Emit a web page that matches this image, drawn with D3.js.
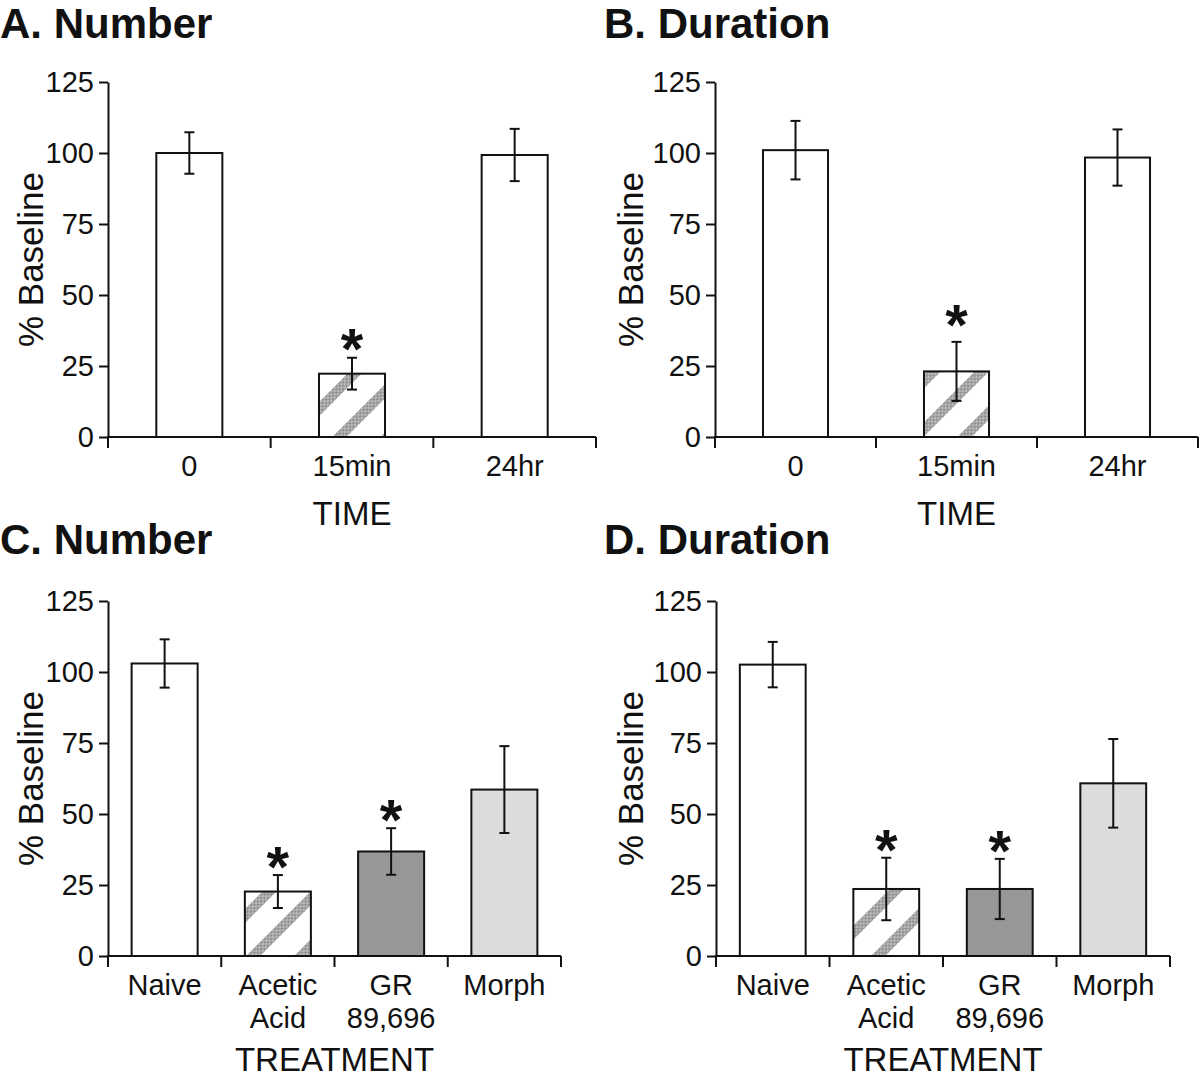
<!DOCTYPE html>
<html>
<head>
<meta charset="utf-8">
<script src="https://cdn.jsdelivr.net/npm/d3@7"></script>
<style>
  html, body { margin: 0; padding: 0; background: #fff; }
  svg { display: block; font-family: "Liberation Sans", Arial, sans-serif; }
</style>
</head>
<body>
<svg id="chart" width="1200" height="1079"></svg>
<script>
// ---------- data ----------
const timeCategories = ["0", "15min", "24hr"];
const treatmentCategories = ["Naive", "Acetic|Acid", "GR|89,696", "Morph"];
const yTickValues = [0, 25, 50, 75, 100, 125];

const numberTimeMeans = [100, 22.3, 99.3];
const numberTimeErrors = [7.3, 5.6, 9.2];
const durationTimeMeans = [101, 23.1, 98.4];
const durationTimeErrors = [10.3, 10.4, 9.9];

const numberTreatMeans = [103, 22.7, 36.8, 58.6];
const numberTreatErrors = [8.5, 5.8, 8.2, 15.3];
const durationTreatMeans = [102.6, 23.6, 23.6, 60.8];
const durationTreatErrors = [8.0, 11.0, 10.6, 15.6];

const timeSignificant = [false, true, false];
const treatSignificant = [false, true, true, false];

const timeFills = ["white", "hatch", "white"];
const treatFills = ["white", "hatch", "#979797", "#dcdcdc"];

const panelTitles = ["A. Number", "B. Duration", "C. Number", "D. Duration"];
const yAxisTitle = "% Baseline";
const xAxisTitles = ["TIME", "TIME", "TREATMENT", "TREATMENT"];

// ---------- layout ----------
const panels = [
  { title: panelTitles[0], cats: timeCategories, means: numberTimeMeans, errs: numberTimeErrors, sig: timeSignificant, fills: timeFills, xTitle: xAxisTitles[0],
    x0: 108, x1: 596, yTop: 82, yBot: 437, pad: 0.594, titleX: 0, titleY: 38, ylabX: 43, starGap: 22 },
  { title: panelTitles[1], cats: timeCategories, means: durationTimeMeans, errs: durationTimeErrors, sig: timeSignificant, fills: timeFills, xTitle: xAxisTitles[1],
    x0: 715, x1: 1198, yTop: 82, yBot: 437, pad: 0.596, titleX: 604, titleY: 38, ylabX: 643, starGap: 30 },
  { title: panelTitles[2], cats: treatmentCategories, means: numberTreatMeans, errs: numberTreatErrors, sig: treatSignificant, fills: treatFills, xTitle: xAxisTitles[2],
    x0: 108, x1: 561, yTop: 601, yBot: 956, pad: 0.417, titleX: 0, titleY: 554, ylabX: 43, starGap: 21 },
  { title: panelTitles[3], cats: treatmentCategories, means: durationTreatMeans, errs: durationTreatErrors, sig: treatSignificant, fills: treatFills, xTitle: xAxisTitles[3],
    x0: 716, x1: 1170, yTop: 601, yBot: 956, pad: 0.42, titleX: 604, titleY: 554, ylabX: 643, starGap: 21 }
];

const svg = d3.select("#chart");
const defs = svg.append("defs");

// stipple texture
const stip = defs.append("pattern").attr("id", "stipple")
  .attr("patternUnits", "userSpaceOnUse").attr("width", 2).attr("height", 2);
stip.append("rect").attr("width", 2).attr("height", 2).attr("fill", "#d0d0d0");
stip.append("rect").attr("width", 1).attr("height", 1).attr("fill", "#707070");
stip.append("rect").attr("x", 1).attr("y", 1).attr("width", 1).attr("height", 1).attr("fill", "#888888");

const hatch = defs.append("pattern").attr("id", "hatch")
  .attr("patternUnits", "userSpaceOnUse").attr("width", 34).attr("height", 34)
  .attr("patternTransform", "rotate(45)");
hatch.append("rect").attr("width", 34).attr("height", 34).attr("fill", "white");
hatch.append("rect").attr("x", 0).attr("width", 10).attr("height", 34).attr("fill", "url(#stipple)");

panels.forEach(p => {
  const g = svg.append("g");
  const x = d3.scaleBand().domain(p.cats).range([p.x0, p.x1])
    .paddingInner(p.pad).paddingOuter(p.pad / 2);
  const y = d3.scaleLinear().domain([0, 125]).range([p.yBot, p.yTop]);

  // title
  g.append("text").attr("x", p.titleX).attr("y", p.titleY)
    .attr("font-size", 42).attr("font-weight", "bold").attr("fill", "#111")
    .text(p.title);

  // bars
  const data = p.cats.map((c, i) => ({ c, m: p.means[i], e: p.errs[i], s: p.sig[i], f: p.fills[i] }));
  g.selectAll("rect.bar").data(data).enter().append("rect").attr("class", "bar")
    .attr("x", d => x(d.c)).attr("width", x.bandwidth())
    .attr("y", d => y(d.m)).attr("height", d => y(0) - y(d.m))
    .attr("fill", d => d.f === "hatch" ? "url(#hatch)" : d.f)
    .attr("stroke", "#111").attr("stroke-width", 2);

  // error bars
  const cap = 5;
  const eb = g.selectAll("g.err").data(data).enter().append("g").attr("class", "err")
    .attr("stroke", "#111").attr("stroke-width", 2);
  eb.append("line")
    .attr("x1", d => x(d.c) + x.bandwidth() / 2).attr("x2", d => x(d.c) + x.bandwidth() / 2)
    .attr("y1", d => y(d.m + d.e)).attr("y2", d => y(d.m - d.e));
  eb.append("line")
    .attr("x1", d => x(d.c) + x.bandwidth() / 2 - cap).attr("x2", d => x(d.c) + x.bandwidth() / 2 + cap)
    .attr("y1", d => y(d.m + d.e)).attr("y2", d => y(d.m + d.e));
  eb.append("line")
    .attr("x1", d => x(d.c) + x.bandwidth() / 2 - cap).attr("x2", d => x(d.c) + x.bandwidth() / 2 + cap)
    .attr("y1", d => y(d.m - d.e)).attr("y2", d => y(d.m - d.e));

  // significance asterisks
  g.selectAll("text.star").data(data.filter(d => d.s)).enter().append("text").attr("class", "star")
    .attr("x", d => x(d.c) + x.bandwidth() / 2)
    .attr("y", d => y(d.m + d.e) - p.starGap + 33)
    .attr("text-anchor", "middle").attr("font-size", 58).attr("font-weight", "bold").attr("fill", "#111")
    .text("*");

  // y axis
  const ya = g.append("g").attr("transform", `translate(${p.x0},0)`)
    .call(d3.axisLeft(y).tickValues(yTickValues).tickSize(9).tickPadding(5).tickSizeOuter(0));
  ya.select(".domain").attr("stroke", "#111").attr("stroke-width", 2);
  ya.selectAll(".tick line").attr("stroke", "#111").attr("stroke-width", 2);
  ya.selectAll(".tick text").attr("font-size", 29).attr("fill", "#111")
    .attr("font-family", "'Liberation Sans', Arial, sans-serif");

  // x axis line + boundary ticks
  const xa = g.append("g");
  xa.append("line").attr("x1", p.x0 - 1).attr("x2", p.x1).attr("y1", y(0)).attr("y2", y(0))
    .attr("stroke", "#111").attr("stroke-width", 2);
  const bounds = d3.range(p.cats.length + 1).map(i => x.range()[0] + i * x.step());
  xa.selectAll("line.bt").data(bounds).enter().append("line").attr("class", "bt")
    .attr("x1", d => d).attr("x2", d => d).attr("y1", y(0)).attr("y2", y(0) + 11)
    .attr("stroke", "#111").attr("stroke-width", 2);

  // category labels (possibly two lines)
  const lbl = xa.selectAll("text.cat").data(p.cats).enter().append("text").attr("class", "cat")
    .attr("x", d => x(d) + x.bandwidth() / 2).attr("y", y(0) + 39)
    .attr("text-anchor", "middle").attr("font-size", 29).attr("fill", "#111");
  lbl.each(function(d) {
    const parts = d.split("|");
    parts.forEach((t, k) => {
      d3.select(this).append("tspan").attr("x", x(d) + x.bandwidth() / 2)
        .attr("dy", k === 0 ? 0 : 33).text(t);
    });
  });

  // x axis title
  const xtY = p.cats.length === 3 ? y(0) + 88 : y(0) + 115;
  g.append("text").attr("x", (p.x0 + p.x1) / 2).attr("y", xtY)
    .attr("text-anchor", "middle").attr("font-size", 33).attr("fill", "#111")
    .text(p.xTitle);

  // y axis title
  g.append("text")
    .attr("transform", `translate(${p.ylabX},${(p.yTop + p.yBot) / 2}) rotate(-90)`)
    .attr("text-anchor", "middle").attr("font-size", 35).attr("fill", "#111")
    .text(yAxisTitle);
});
</script>
</body>
</html>
